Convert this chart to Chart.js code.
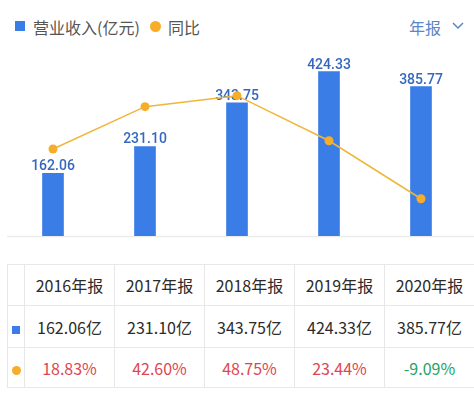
<!DOCTYPE html>
<html>
<head>
<meta charset="utf-8">
<script src="https://cdn.jsdelivr.net/npm/chart.js@4"></script>
<style>
    html, body { margin: 0; padding: 0; background: #fff; overflow: hidden; }
    body { width: 474px; height: 397px; position: relative; font-family: "Noto Sans CJK SC", "Noto Sans", sans-serif; }
    .legend { position: absolute; top: 0; left: 0; width: 474px; height: 50px; font-size: 16px; color: #555; }
    .legend .sq { position: absolute; left: 15px; top: 21px; width: 10px; height: 10px; background: #3b7de6; }
    .legend .dot { position: absolute; left: 150px; top: 21px; width: 11px; height: 11px; border-radius: 50%; background: #f5ad2a; }
    .legend .txt { position: absolute; top: 16px; line-height: 22px; white-space: nowrap; }
    .period { position: absolute; left: 409px; top: 16px; line-height: 22px; font-size: 16px; color: #5a86c4; }
    .chev { position: absolute; left: 452px; top: 22px; }
    #chart-wrap { position: absolute; left: 0; top: 0; width: 474px; height: 250px; }
    table { position: absolute; left: 7px; top: 264px; border-collapse: collapse; table-layout: fixed; width: 468px; }
    td { border: 1px solid #e8e8e8; text-align: center; padding: 0; font-size: 16px; color: #2b2b2b; white-space: nowrap; }
    tr.h td { height: 40px; }
    tr.v td { height: 41px; }
    tr.p td { height: 39px; }
    .isq { display: inline-block; width: 8px; height: 8px; background: #3b7de6; }
    .idot { display: inline-block; width: 9px; height: 9px; border-radius: 50%; background: #f5ad2a; }
</style>
</head>
<body>
<div class="legend">
    <div class="sq"></div>
    <div class="txt" style="left:33px">营业收入(亿元)</div>
    <div class="dot"></div>
    <div class="txt" style="left:168px">同比</div>
</div>
<div class="period">年报</div>
<svg class="chev" width="12" height="8"><polyline points="1,1 6,6 11,1" fill="none" stroke="#5a86c4" stroke-width="1.5"/></svg>
<div id="chart-wrap"><canvas id="chart"></canvas></div>
<table id="tbl"></table>

<script>
const years = ['2016年报', '2017年报', '2018年报', '2019年报', '2020年报'];
const revenue = [162.06, 231.10, 343.75, 424.33, 385.77];
const growth = [18.83, 42.60, 48.75, 23.44, -9.09];

// table under the chart
const tbl = document.getElementById('tbl');
let html = '<colgroup><col style="width:17px">' + years.map(() => '<col style="width:90px">').join('') + '</colgroup>';
html += '<tr class="h"><td></td>' + years.map(y => `<td>${y}</td>`).join('') + '</tr>';
html += '<tr class="v"><td><span class="isq"></span></td>' + revenue.map(v => `<td>${v.toFixed(2)}亿</td>`).join('') + '</tr>';
html += '<tr class="p"><td><span class="idot"></span></td>' + growth.map(g =>
    `<td style="color:${g < 0 ? '#25a366' : '#de4650'}">${g.toFixed(2)}%</td>`).join('') + '</tr>';
tbl.innerHTML = html;

// value labels on top of the bars, drawn before the line
const barLabels = {
    id: 'barLabels',
    afterDatasetDraw(chart, args) {
        if (args.index !== 0) return;
        const ctx = chart.ctx;
        ctx.save();
        ctx.font = '500 14px Roboto';
        ctx.fillStyle = '#3568be';
        ctx.textAlign = 'center';
        ctx.textBaseline = 'alphabetic';
        args.meta.data.forEach((bar, i) => {
            ctx.fillText(revenue[i].toFixed(2), bar.x, bar.y - 3);
        });
        ctx.restore();
    },
    beforeDatasetsDraw(chart) {
        const ctx = chart.ctx;
        const a = chart.chartArea;
        ctx.save();
        ctx.strokeStyle = '#ececec';
        ctx.lineWidth = 1.5;
        ctx.beginPath();
        ctx.moveTo(a.left, a.bottom + 0.5);
        ctx.lineTo(chart.width, a.bottom + 0.5);
        ctx.stroke();
        ctx.restore();
    }
};

new Chart(document.getElementById('chart'), {
    data: {
        labels: years,
        datasets: [
            {
                type: 'bar',
                data: revenue,
                backgroundColor: '#3b7de6',
                barThickness: 21,
                yAxisID: 'y',
                order: 2
            },
            {
                type: 'line',
                data: growth,
                borderColor: '#f0b63a',
                borderWidth: 1.5,
                pointRadius: 4.5,
                pointBackgroundColor: '#f5ad2a',
                pointBorderWidth: 0,
                yAxisID: 'y1',
                order: 1
            }
        ]
    },
    options: {
        responsive: true,
        maintainAspectRatio: false,
        animation: false,
        layout: { padding: { left: 7, right: 7, top: 40, bottom: 14 } },
        plugins: { legend: { display: false }, tooltip: { enabled: false } },
        scales: {
            x: { display: false },
            y: { display: false, min: 0, max: 506 },
            y1: { display: false, min: -30, max: 80 }
        }
    },
    plugins: [barLabels]
});
</script>
</body>
</html>
